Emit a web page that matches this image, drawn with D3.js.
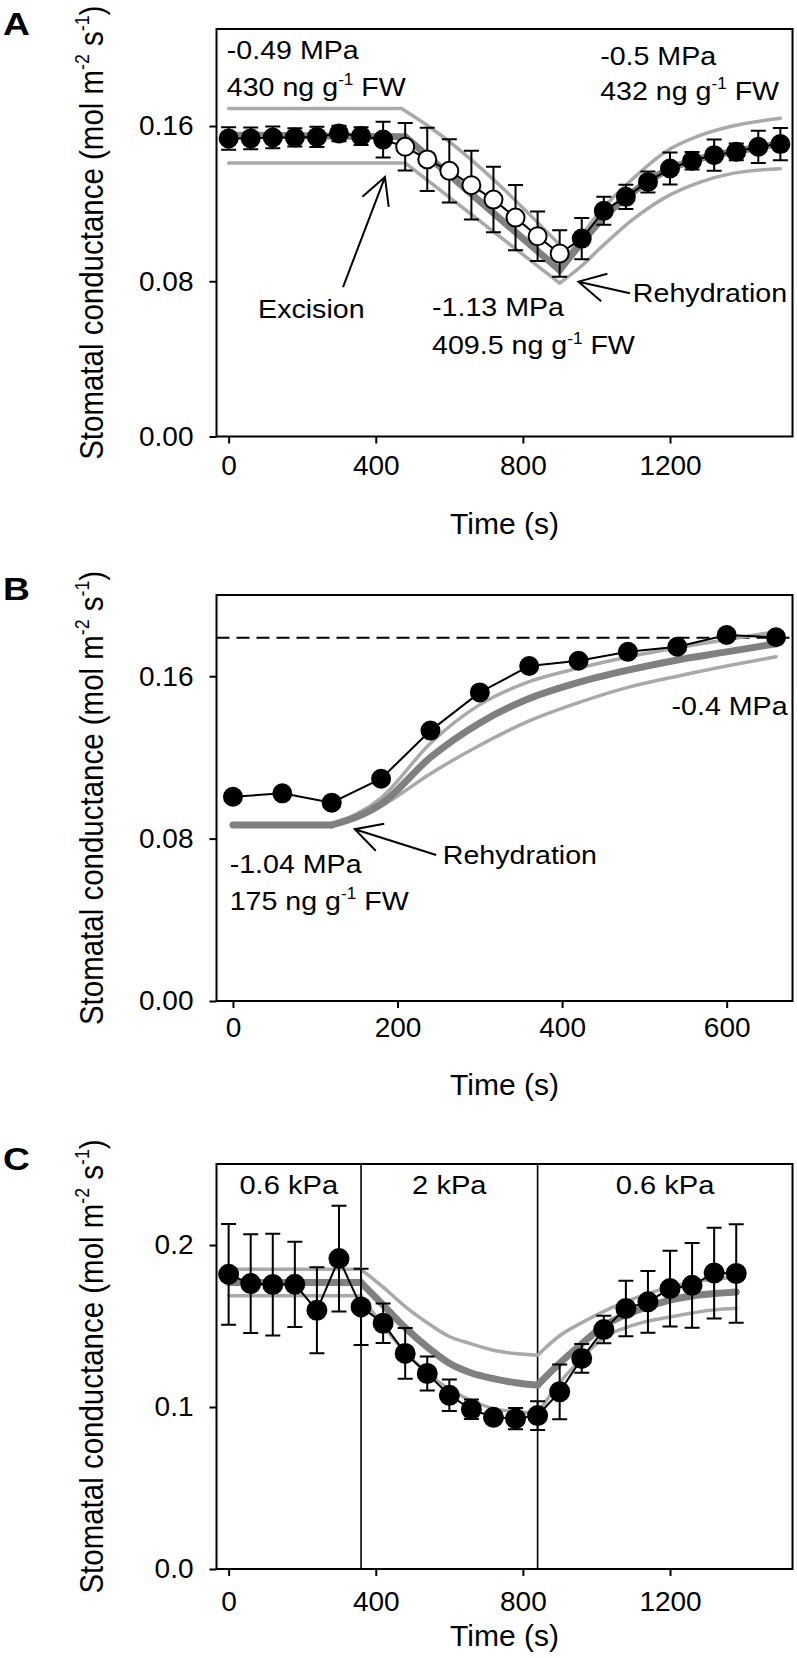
<!DOCTYPE html>
<meta charset="utf-8">
<style>
    body { margin: 0; background: #fff; }
    svg text { font-family: "Liberation Sans", Arial, sans-serif; fill: #000; }
</style>
<body>
<svg id="chart" width="797" height="1658"></svg>
</body>
<script src="https://cdn.jsdelivr.net/npm/d3@7/dist/d3.min.js"></script>
<script>

    // ---------- panel A : excision then rehydration ----------
    var timeA = [0, 60, 120, 180, 240, 300, 360, 420, 480, 540, 600, 660, 720, 780, 840, 900,
                 960, 1020, 1080, 1140, 1200, 1260, 1320, 1380, 1440, 1500];
    var gsA = [0.1536, 0.1536, 0.1541, 0.1541, 0.1544, 0.1562, 0.1548, 0.1530,
               0.1493, 0.1428, 0.1369, 0.1295, 0.1221, 0.1128, 0.1032, 0.0943,
               0.1020, 0.1163, 0.1235, 0.1312, 0.1381, 0.1421, 0.1450, 0.1467, 0.1493, 0.1507];
    var errA = [0.0058, 0.0056, 0.0056, 0.0047, 0.0052, 0.0040, 0.0046, 0.0092,
                0.0122, 0.0163, 0.0163, 0.0177, 0.0169, 0.0168, 0.0127, 0.0120,
                0.0106, 0.0072, 0.0062, 0.0054, 0.0082, 0.0045, 0.0080, 0.0043, 0.0083, 0.0083];
    var openA = [480, 900];   // excised leaf: open symbols in this time window

    var modelA_t = [0, 480, 900, 960, 1020, 1080, 1140, 1200, 1260, 1320, 1380, 1440, 1500];
    var modelA = [0.1553, 0.1545, 0.0857, 0.100, 0.113, 0.123, 0.1315, 0.138, 0.142, 0.145, 0.147, 0.149, 0.151];
    var modelA_hi_t = [0, 470, 550, 925, 1010, 1100, 1190, 1280, 1370, 1500];
    var modelA_hi = [0.169, 0.169, 0.159, 0.094, 0.116, 0.133, 0.147, 0.155, 0.160, 0.164];
    var modelA_lo_t = [0, 480, 900, 960, 1010, 1100, 1190, 1280, 1370, 1500];
    var modelA_lo = [0.141, 0.141, 0.079, 0.088, 0.097, 0.112, 0.1235, 0.131, 0.1356, 0.138];

    // ---------- panel B : rehydration ----------
    var timeB = [0, 60, 120, 180, 240, 300, 360, 420, 480, 540, 600, 660];
    var gsB = [0.1006, 0.1023, 0.0977, 0.1095, 0.1332, 0.1520, 0.1650, 0.1676, 0.1720, 0.1745, 0.1803, 0.1792];
    var refB = 0.179;
    var modelB_t = [0, 120, 180, 240, 300, 360, 420, 480, 540, 600, 660];
    var modelB = [0.0867, 0.0867, 0.097, 0.120, 0.137, 0.149, 0.157, 0.163, 0.168, 0.172, 0.176];
    var modelB_band_t = [120, 180, 240, 300, 360, 420, 480, 540, 600, 660];
    var modelB_hi = [0.0867, 0.100, 0.127, 0.146, 0.1573, 0.164, 0.1695, 0.174, 0.178, 0.182];
    var modelB_lo = [0.0867, 0.096, 0.112, 0.126, 0.138, 0.147, 0.1545, 0.160, 0.165, 0.1696];

    // ---------- panel C : VPD steps ----------
    var timeC = [0, 60, 120, 180, 240, 300, 360, 420, 480, 540, 600, 660, 720, 780, 840, 900,
                 960, 1020, 1080, 1140, 1200, 1260, 1320, 1380];
    var gsC = [0.1819, 0.1762, 0.1756, 0.1757, 0.1597, 0.1916, 0.1618, 0.1517, 0.1331, 0.1207,
               0.1072, 0.0986, 0.0936, 0.0928, 0.0947, 0.1094, 0.1300, 0.1478, 0.1608, 0.1649,
               0.1731, 0.1751, 0.1827, 0.1824];
    var errC = [0.0311, 0.0305, 0.0314, 0.0263, 0.0265, 0.0327, 0.0235, 0.0122, 0.0157, 0.0105,
                0.0097, 0.0060, 0.0035, 0.0066, 0.0089, 0.0169, 0.0089, 0.0085, 0.0172, 0.0190,
                0.0234, 0.0262, 0.0280, 0.0304];
    var stepsC = [360, 840];
    var vpdC = ["0.6 kPa", "2 kPa", "0.6 kPa"];
    var modelC_t = [0, 360, 420, 480, 540, 600, 660, 720, 780, 840, 900, 960, 1020, 1080, 1140, 1200, 1260, 1320, 1380];
    var modelC = [0.1768, 0.1768, 0.163, 0.149, 0.137, 0.127, 0.121, 0.1175, 0.115, 0.1135,
                  0.127, 0.139, 0.150, 0.157, 0.162, 0.166, 0.1685, 0.170, 0.171];
    var modelC_hi = [0.185, 0.185, 0.174, 0.162, 0.152, 0.1435, 0.139, 0.135, 0.133, 0.132,
                     0.144, 0.152, 0.159, 0.165, 0.170, 0.174, 0.177, 0.179, 0.180];
    var modelC_lo = [0.1686, 0.1686, 0.150, 0.134, 0.121, 0.111, 0.104, 0.099, 0.097, 0.096,
                     0.115, 0.130, 0.143, 0.149, 0.153, 0.1556, 0.158, 0.160, 0.161];

    var ticksTime = [0, 400, 800, 1200];
    var ticksTimeB = [0, 200, 400, 600];
    var ticksGs = [0, 0.08, 0.16];
    var ticksGsC = [0, 0.1, 0.2];

    var svg = d3.select("#chart");
    var LEFT = 216.5, RIGHT = 792.5;
    var DARK = "#808080", LIGHT = "#a9a9a9";

    function rich(g, x, y, parts, size, opts) {
        opts = opts || {};
        var tr = "translate(" + x + "," + y + ")";
        if (opts.rotate) tr += " rotate(-90)";
        tr += " scale(" + (opts.sx || 1) + "," + (opts.sy || 1) + ")";
        var t = g.append("text").attr("transform", tr).attr("font-size", size)
            .attr("text-anchor", opts.anchor || "start")
            .attr("font-weight", opts.bold ? "bold" : null);
        var shift = 0;
        parts.forEach(function (p) {
            var sup = p.charAt(0) === "^";
            var target = sup ? -0.42 * size : 0;
            var ts = t.append("tspan").attr("dy", target - shift).text(sup ? p.slice(1) : p);
            if (sup) ts.attr("font-size", size * 0.6);
            shift = target;
        });
        return t;
    }

    function splitAt(pts, corners) {
        var segs = [], cur = [];
        pts.forEach(function (p) {
            cur.push(p);
            if (corners.indexOf(p[0]) >= 0 && cur.length > 1) { segs.push(cur); cur = [p]; }
        });
        if (cur.length > 1) segs.push(cur);
        return segs;
    }

    function arrow(g, x, y, from, tip) {
        var x0 = x(from[0]), y0 = y(from[1]), x1 = x(tip[0]), y1 = y(tip[1]);
        var a = Math.atan2(y0 - y1, x0 - x1), len = 30, h = 28 * Math.PI / 180;
        var d = "M" + x0 + "," + y0 + "L" + x1 + "," + y1 +
            "M" + (x1 + len * Math.cos(a - h)) + "," + (y1 + len * Math.sin(a - h)) +
            "L" + x1 + "," + y1 +
            "L" + (x1 + len * Math.cos(a + h)) + "," + (y1 + len * Math.sin(a + h));
        g.append("path").attr("d", d).attr("fill", "none").attr("stroke", "#000")
            .attr("stroke-width", 2);
    }

    function drawPanel(p) {
        var g = svg.append("g");
        var x = d3.scaleLinear().domain(p.xDomain).range([LEFT, RIGHT]);
        var y = d3.scaleLinear().domain(p.yDomain).range([p.bottom, p.top]);
        var smooth = d3.line().x(function (d) { return x(d[0]); })
            .y(function (d) { return y(d[1]); }).curve(d3.curveMonotoneX);

        if (p.ref != null) {
            g.append("line").attr("x1", LEFT).attr("x2", RIGHT)
                .attr("y1", y(p.ref)).attr("y2", y(p.ref))
                .attr("stroke", "#000").attr("stroke-width", 2).attr("stroke-dasharray", "13,7");
        }
        (p.dividers || []).forEach(function (t) {
            g.append("line").attr("x1", x(t)).attr("x2", x(t)).attr("y1", p.top).attr("y2", p.bottom)
                .attr("stroke", "#000").attr("stroke-width", 1.6);
        });

        p.models.forEach(function (m) {
            splitAt(d3.zip(m.t, m.v), m.corners).forEach(function (seg) {
                g.append("path").attr("d", smooth(seg)).attr("fill", "none")
                    .attr("stroke", m.color).attr("stroke-width", m.width)
                    .attr("stroke-linecap", "round").attr("stroke-linejoin", "round");
            });
        });

        var pts = d3.zip(p.t, p.v, p.err || p.t.map(function () { return 0; }));
        if (p.err) {
            var eb = g.append("g").attr("stroke", "#000").attr("stroke-width", 2);
            pts.forEach(function (d) {
                var cx = x(d[0]), y0 = y(d[1] - d[2]), y1 = y(d[1] + d[2]);
                eb.append("path").attr("d", "M" + cx + "," + y0 + "V" + y1 +
                    "M" + (cx - 7.5) + "," + y0 + "H" + (cx + 7.5) +
                    "M" + (cx - 7.5) + "," + y1 + "H" + (cx + 7.5));
            });
        }
        g.append("path").attr("d", d3.line().x(function (d) { return x(d[0]); })
            .y(function (d) { return y(d[1]); })(pts))
            .attr("fill", "none").attr("stroke", "#000").attr("stroke-width", 2);

        g.selectAll("circle.pt").data(pts).join("circle").attr("class", "pt")
            .attr("cx", function (d) { return x(d[0]); })
            .attr("cy", function (d) { return y(d[1]); })
            .attr("r", p.r)
            .attr("fill", function (d) {
                return p.open && d[0] >= p.open[0] && d[0] <= p.open[1] ? "#fff" : "#000";
            })
            .attr("stroke", "#000").attr("stroke-width", 2);

        g.append("rect").attr("x", LEFT).attr("y", p.top)
            .attr("width", RIGHT - LEFT).attr("height", p.bottom - p.top)
            .attr("fill", "none").attr("stroke", "#000").attr("stroke-width", 2);

        var ax = g.append("g").attr("transform", "translate(0," + p.bottom + ")")
            .call(d3.axisBottom(x).tickValues(p.xTicks).tickFormat(d3.format("d"))
                .tickSize(7).tickPadding(p.xPad).tickSizeOuter(0));
        var ay = g.append("g").attr("transform", "translate(" + LEFT + ",0)")
            .call(d3.axisLeft(y).tickValues(p.yTicks).tickFormat(d3.format(p.yFormat))
                .tickSize(7).tickPadding(16).tickSizeOuter(0));
        [ax, ay].forEach(function (a) {
            a.attr("font-family", null).attr("font-size", 28);
            a.select(".domain").remove();
            a.selectAll("line").attr("stroke-width", 2);
        });

        rich(g, (LEFT + RIGHT) / 2, p.xTitleY, ["Time (s)"], 30, { anchor: "middle" });
        rich(g, 103, (p.top + p.bottom) / 2,
            ["Stomatal conductance (mol m", "^-2", " s", "^-1", ")"], 29.5,
            { rotate: true, anchor: "middle", sy: 1.15 });
        rich(g, 3, p.letterY, [p.letter], 31, { bold: true, sx: 1.2 });

        return { g: g, x: x, y: y };
    }

    var ann = { sx: 1.1 };

    // ---- A ----
    var A = drawPanel({
        letter: "A", letterY: 35, top: 29, bottom: 436.5, xTitleY: 534, xPad: 12,
        xDomain: [-33, 1533], yDomain: [0, 0.21], xTicks: ticksTime, yTicks: ticksGs, yFormat: ".2f",
        t: timeA, v: gsA, err: errA, open: openA, r: 9,
        models: [
            { t: modelA_hi_t, v: modelA_hi, corners: [470, 925], color: LIGHT, width: 3.5 },
            { t: modelA_lo_t, v: modelA_lo, corners: [480, 900], color: LIGHT, width: 3.5 },
            { t: modelA_t, v: modelA, corners: [480, 900], color: DARK, width: 7 }
        ]
    });
    rich(A.g, A.x(-5), A.y(0.1944), ["-0.49 MPa"], 26, ann);
    rich(A.g, A.x(-5), A.y(0.1755), ["430 ng g", "^-1", " FW"], 26, ann);
    rich(A.g, A.x(1010), A.y(0.1914), ["-0.5 MPa"], 26, ann);
    rich(A.g, A.x(1010), A.y(0.1734), ["432 ng g", "^-1", " FW"], 26, ann);
    rich(A.g, A.x(80), A.y(0.0611), ["Excision"], 26, ann);
    rich(A.g, A.x(1099), A.y(0.0695), ["Rehydration"], 26, ann);
    rich(A.g, A.x(553), A.y(0.0621), ["-1.13 MPa"], 26, ann);
    rich(A.g, A.x(553), A.y(0.0423), ["409.5 ng g", "^-1", " FW"], 26, ann);
    arrow(A.g, A.x, A.y, [311, 0.0770], [425, 0.1337]);
    arrow(A.g, A.x, A.y, [1091, 0.0738], [951, 0.0798]);

    // ---- B ----
    var B = drawPanel({
        letter: "B", letterY: 600, top: 595, bottom: 1001, xTitleY: 1095, xPad: 9,
        xDomain: [-20, 680], yDomain: [0, 0.2], xTicks: ticksTimeB, yTicks: ticksGs, yFormat: ".2f",
        t: timeB, v: gsB, r: 9, ref: refB,
        models: [
            { t: modelB_band_t, v: modelB_hi, corners: [], color: LIGHT, width: 3.5 },
            { t: modelB_band_t, v: modelB_lo, corners: [], color: LIGHT, width: 3.5 },
            { t: modelB_t, v: modelB, corners: [120], color: DARK, width: 7 }
        ]
    });
    rich(B.g, B.x(-4), B.y(0.0631), ["-1.04 MPa"], 26, ann);
    rich(B.g, B.x(-4), B.y(0.0448), ["175 ng g", "^-1", " FW"], 26, ann);
    rich(B.g, B.x(255), B.y(0.0675), ["Rehydration"], 26, ann);
    rich(B.g, B.x(674), B.y(0.1409), ["-0.4 MPa"], 26, { sx: 1.1, anchor: "end" });
    arrow(B.g, B.x, B.y, [247, 0.0719], [148, 0.0846]);

    // ---- C ----
    var C = drawPanel({
        letter: "C", letterY: 1170, top: 1164, bottom: 1569, xTitleY: 1646, xPad: 15,
        xDomain: [-33, 1533], yDomain: [0, 0.25], xTicks: ticksTime, yTicks: ticksGsC, yFormat: ".1f",
        t: timeC, v: gsC, err: errC, r: 9.5, dividers: stepsC,
        models: [
            { t: modelC_t, v: modelC_hi, corners: [360, 840], color: LIGHT, width: 3.5 },
            { t: modelC_t, v: modelC_lo, corners: [360, 840], color: LIGHT, width: 3.5 },
            { t: modelC_t, v: modelC, corners: [360, 840], color: DARK, width: 7 }
        ]
    });
    var bounds = [C.x.domain()[0]].concat(stepsC, [C.x.domain()[1]]);
    vpdC.forEach(function (lab, i) {
        rich(C.g, C.x((bounds[i] + bounds[i + 1]) / 2), C.y(0.2315), [lab], 26,
            { sx: 1.12, anchor: "middle" });
    });

</script>
